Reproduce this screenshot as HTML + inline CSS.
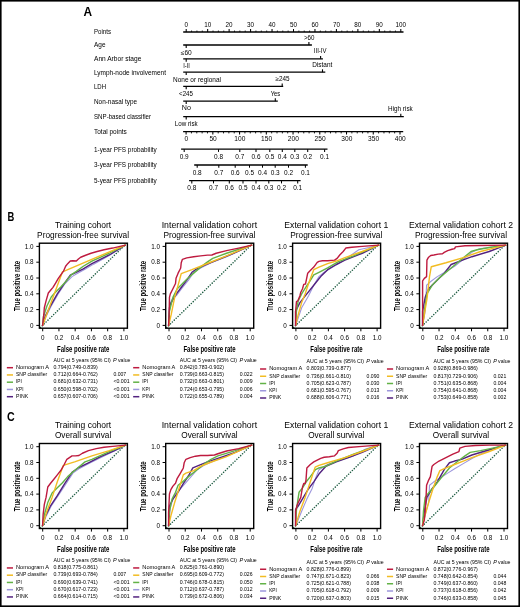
<!DOCTYPE html>
<html><head><meta charset="utf-8"><title>Figure</title>
<style>html,body{margin:0;padding:0;background:#fff;overflow:hidden;}svg{display:block;will-change:transform;}text{font-family:"Liberation Sans",sans-serif;}</style>
</head><body>
<svg width="520" height="607" viewBox="0 0 520 607" font-family='"Liberation Sans", sans-serif'>
<rect x="0" y="0" width="520" height="607" fill="#fff"/>
<text x="83.50" y="15.80" font-size="12" font-weight="bold" textLength="8.60" lengthAdjust="spacingAndGlyphs">A</text>
<text x="94.00" y="34.40" font-size="7" textLength="17.00" lengthAdjust="spacingAndGlyphs">Points</text>
<text x="94.00" y="47.40" font-size="7" textLength="11.50" lengthAdjust="spacingAndGlyphs">Age</text>
<text x="94.00" y="61.20" font-size="7" textLength="47.30" lengthAdjust="spacingAndGlyphs">Ann Arbor stage</text>
<text x="94.00" y="74.60" font-size="7" textLength="72.00" lengthAdjust="spacingAndGlyphs">Lymph-node involvement</text>
<text x="94.00" y="88.80" font-size="7" textLength="12.00" lengthAdjust="spacingAndGlyphs">LDH</text>
<text x="94.00" y="103.60" font-size="7" textLength="43.00" lengthAdjust="spacingAndGlyphs">Non-nasal type</text>
<text x="94.00" y="119.00" font-size="7" textLength="57.00" lengthAdjust="spacingAndGlyphs">SNP-based classifier</text>
<text x="94.00" y="134.00" font-size="7" textLength="32.80" lengthAdjust="spacingAndGlyphs">Total points</text>
<text x="94.00" y="151.60" font-size="7" textLength="62.80" lengthAdjust="spacingAndGlyphs">1-year PFS probability</text>
<text x="94.00" y="167.40" font-size="7" textLength="62.80" lengthAdjust="spacingAndGlyphs">3-year PFS probability</text>
<text x="94.00" y="183.10" font-size="7" textLength="62.80" lengthAdjust="spacingAndGlyphs">5-year PFS probability</text>
<line x1="183.20" y1="32.00" x2="403.50" y2="32.00" stroke="#000" stroke-width="1.3"/>
<line x1="186.20" y1="32.00" x2="186.20" y2="29.00" stroke="#000" stroke-width="1.05"/>
<text x="186.20" y="26.60" font-size="6.3" text-anchor="middle">0</text>
<line x1="191.56" y1="32.00" x2="191.56" y2="30.50" stroke="#000" stroke-width="0.8"/>
<line x1="196.93" y1="32.00" x2="196.93" y2="30.50" stroke="#000" stroke-width="0.8"/>
<line x1="202.29" y1="32.00" x2="202.29" y2="30.50" stroke="#000" stroke-width="0.8"/>
<line x1="207.66" y1="32.00" x2="207.66" y2="29.00" stroke="#000" stroke-width="1.05"/>
<text x="207.66" y="26.60" font-size="6.3" text-anchor="middle">10</text>
<line x1="213.02" y1="32.00" x2="213.02" y2="30.50" stroke="#000" stroke-width="0.8"/>
<line x1="218.39" y1="32.00" x2="218.39" y2="30.50" stroke="#000" stroke-width="0.8"/>
<line x1="223.75" y1="32.00" x2="223.75" y2="30.50" stroke="#000" stroke-width="0.8"/>
<line x1="229.12" y1="32.00" x2="229.12" y2="29.00" stroke="#000" stroke-width="1.05"/>
<text x="229.12" y="26.60" font-size="6.3" text-anchor="middle">20</text>
<line x1="234.49" y1="32.00" x2="234.49" y2="30.50" stroke="#000" stroke-width="0.8"/>
<line x1="239.85" y1="32.00" x2="239.85" y2="30.50" stroke="#000" stroke-width="0.8"/>
<line x1="245.22" y1="32.00" x2="245.22" y2="30.50" stroke="#000" stroke-width="0.8"/>
<line x1="250.58" y1="32.00" x2="250.58" y2="29.00" stroke="#000" stroke-width="1.05"/>
<text x="250.58" y="26.60" font-size="6.3" text-anchor="middle">30</text>
<line x1="255.94" y1="32.00" x2="255.94" y2="30.50" stroke="#000" stroke-width="0.8"/>
<line x1="261.31" y1="32.00" x2="261.31" y2="30.50" stroke="#000" stroke-width="0.8"/>
<line x1="266.68" y1="32.00" x2="266.68" y2="30.50" stroke="#000" stroke-width="0.8"/>
<line x1="272.04" y1="32.00" x2="272.04" y2="29.00" stroke="#000" stroke-width="1.05"/>
<text x="272.04" y="26.60" font-size="6.3" text-anchor="middle">40</text>
<line x1="277.40" y1="32.00" x2="277.40" y2="30.50" stroke="#000" stroke-width="0.8"/>
<line x1="282.77" y1="32.00" x2="282.77" y2="30.50" stroke="#000" stroke-width="0.8"/>
<line x1="288.13" y1="32.00" x2="288.13" y2="30.50" stroke="#000" stroke-width="0.8"/>
<line x1="293.50" y1="32.00" x2="293.50" y2="29.00" stroke="#000" stroke-width="1.05"/>
<text x="293.50" y="26.60" font-size="6.3" text-anchor="middle">50</text>
<line x1="298.87" y1="32.00" x2="298.87" y2="30.50" stroke="#000" stroke-width="0.8"/>
<line x1="304.23" y1="32.00" x2="304.23" y2="30.50" stroke="#000" stroke-width="0.8"/>
<line x1="309.60" y1="32.00" x2="309.60" y2="30.50" stroke="#000" stroke-width="0.8"/>
<line x1="314.96" y1="32.00" x2="314.96" y2="29.00" stroke="#000" stroke-width="1.05"/>
<text x="314.96" y="26.60" font-size="6.3" text-anchor="middle">60</text>
<line x1="320.33" y1="32.00" x2="320.33" y2="30.50" stroke="#000" stroke-width="0.8"/>
<line x1="325.69" y1="32.00" x2="325.69" y2="30.50" stroke="#000" stroke-width="0.8"/>
<line x1="331.06" y1="32.00" x2="331.06" y2="30.50" stroke="#000" stroke-width="0.8"/>
<line x1="336.42" y1="32.00" x2="336.42" y2="29.00" stroke="#000" stroke-width="1.05"/>
<text x="336.42" y="26.60" font-size="6.3" text-anchor="middle">70</text>
<line x1="341.78" y1="32.00" x2="341.78" y2="30.50" stroke="#000" stroke-width="0.8"/>
<line x1="347.15" y1="32.00" x2="347.15" y2="30.50" stroke="#000" stroke-width="0.8"/>
<line x1="352.51" y1="32.00" x2="352.51" y2="30.50" stroke="#000" stroke-width="0.8"/>
<line x1="357.88" y1="32.00" x2="357.88" y2="29.00" stroke="#000" stroke-width="1.05"/>
<text x="357.88" y="26.60" font-size="6.3" text-anchor="middle">80</text>
<line x1="363.25" y1="32.00" x2="363.25" y2="30.50" stroke="#000" stroke-width="0.8"/>
<line x1="368.61" y1="32.00" x2="368.61" y2="30.50" stroke="#000" stroke-width="0.8"/>
<line x1="373.98" y1="32.00" x2="373.98" y2="30.50" stroke="#000" stroke-width="0.8"/>
<line x1="379.34" y1="32.00" x2="379.34" y2="29.00" stroke="#000" stroke-width="1.05"/>
<text x="379.34" y="26.60" font-size="6.3" text-anchor="middle">90</text>
<line x1="384.71" y1="32.00" x2="384.71" y2="30.50" stroke="#000" stroke-width="0.8"/>
<line x1="390.07" y1="32.00" x2="390.07" y2="30.50" stroke="#000" stroke-width="0.8"/>
<line x1="395.44" y1="32.00" x2="395.44" y2="30.50" stroke="#000" stroke-width="0.8"/>
<line x1="400.80" y1="32.00" x2="400.80" y2="29.00" stroke="#000" stroke-width="1.05"/>
<text x="400.80" y="26.60" font-size="6.3" text-anchor="middle">100</text>
<line x1="183.20" y1="45.00" x2="311.90" y2="45.00" stroke="#000" stroke-width="1.3"/>
<line x1="186.20" y1="45.00" x2="186.20" y2="47.90" stroke="#000" stroke-width="1.1"/>
<line x1="308.90" y1="45.00" x2="308.90" y2="42.10" stroke="#000" stroke-width="1.1"/>
<text x="186.30" y="54.80" font-size="6.4" text-anchor="middle" textLength="11.00" lengthAdjust="spacingAndGlyphs">≤60</text>
<text x="309.20" y="39.60" font-size="6.4" text-anchor="middle" textLength="10.50" lengthAdjust="spacingAndGlyphs">&gt;60</text>
<line x1="183.20" y1="58.80" x2="322.90" y2="58.80" stroke="#000" stroke-width="1.3"/>
<line x1="186.20" y1="58.80" x2="186.20" y2="61.70" stroke="#000" stroke-width="1.1"/>
<line x1="320.60" y1="58.80" x2="320.60" y2="55.90" stroke="#000" stroke-width="1.1"/>
<text x="186.50" y="68.20" font-size="6.4" text-anchor="middle" textLength="6.60" lengthAdjust="spacingAndGlyphs">I-II</text>
<text x="320.20" y="53.20" font-size="6.4" text-anchor="middle" textLength="12.70" lengthAdjust="spacingAndGlyphs">III-IV</text>
<line x1="183.20" y1="72.20" x2="325.30" y2="72.20" stroke="#000" stroke-width="1.3"/>
<line x1="186.20" y1="72.20" x2="186.20" y2="75.10" stroke="#000" stroke-width="1.1"/>
<line x1="322.50" y1="72.20" x2="322.50" y2="69.30" stroke="#000" stroke-width="1.1"/>
<text x="197.00" y="81.80" font-size="6.4" text-anchor="middle" textLength="47.90" lengthAdjust="spacingAndGlyphs">None or regional</text>
<text x="322.30" y="66.60" font-size="6.4" text-anchor="middle" textLength="20.00" lengthAdjust="spacingAndGlyphs">Distant</text>
<line x1="183.20" y1="86.40" x2="283.20" y2="86.40" stroke="#000" stroke-width="1.3"/>
<line x1="186.20" y1="86.40" x2="186.20" y2="89.30" stroke="#000" stroke-width="1.1"/>
<line x1="282.20" y1="86.40" x2="282.20" y2="83.50" stroke="#000" stroke-width="1.1"/>
<text x="186.00" y="95.60" font-size="6.4" text-anchor="middle" textLength="13.90" lengthAdjust="spacingAndGlyphs">&lt;245</text>
<text x="282.50" y="80.70" font-size="6.4" text-anchor="middle" textLength="14.10" lengthAdjust="spacingAndGlyphs">≥245</text>
<line x1="183.20" y1="101.20" x2="277.80" y2="101.20" stroke="#000" stroke-width="1.3"/>
<line x1="186.20" y1="101.20" x2="186.20" y2="104.10" stroke="#000" stroke-width="1.1"/>
<line x1="275.30" y1="101.20" x2="275.30" y2="98.30" stroke="#000" stroke-width="1.1"/>
<text x="186.40" y="110.40" font-size="6.4" text-anchor="middle" textLength="9.10" lengthAdjust="spacingAndGlyphs">No</text>
<text x="275.50" y="95.70" font-size="6.4" text-anchor="middle" textLength="9.50" lengthAdjust="spacingAndGlyphs">Yes</text>
<line x1="183.20" y1="116.60" x2="403.80" y2="116.60" stroke="#000" stroke-width="1.3"/>
<line x1="186.20" y1="116.60" x2="186.20" y2="119.50" stroke="#000" stroke-width="1.1"/>
<line x1="400.80" y1="116.60" x2="400.80" y2="113.70" stroke="#000" stroke-width="1.1"/>
<text x="186.20" y="125.50" font-size="6.4" text-anchor="middle" textLength="22.90" lengthAdjust="spacingAndGlyphs">Low risk</text>
<text x="400.40" y="110.60" font-size="6.4" text-anchor="middle" textLength="24.70" lengthAdjust="spacingAndGlyphs">High risk</text>
<line x1="183.10" y1="131.60" x2="403.20" y2="131.60" stroke="#000" stroke-width="1.3"/>
<line x1="186.10" y1="131.60" x2="186.10" y2="134.50" stroke="#000" stroke-width="1.05"/>
<text x="186.40" y="140.70" font-size="6.6" text-anchor="middle">0</text>
<line x1="191.45" y1="131.60" x2="191.45" y2="133.40" stroke="#000" stroke-width="0.9"/>
<line x1="196.79" y1="131.60" x2="196.79" y2="133.40" stroke="#000" stroke-width="0.9"/>
<line x1="202.14" y1="131.60" x2="202.14" y2="133.40" stroke="#000" stroke-width="0.9"/>
<line x1="207.49" y1="131.60" x2="207.49" y2="133.40" stroke="#000" stroke-width="0.9"/>
<line x1="212.84" y1="131.60" x2="212.84" y2="134.50" stroke="#000" stroke-width="1.05"/>
<text x="213.14" y="140.70" font-size="6.6" text-anchor="middle">50</text>
<line x1="218.19" y1="131.60" x2="218.19" y2="133.40" stroke="#000" stroke-width="0.9"/>
<line x1="223.53" y1="131.60" x2="223.53" y2="133.40" stroke="#000" stroke-width="0.9"/>
<line x1="228.88" y1="131.60" x2="228.88" y2="133.40" stroke="#000" stroke-width="0.9"/>
<line x1="234.23" y1="131.60" x2="234.23" y2="133.40" stroke="#000" stroke-width="0.9"/>
<line x1="239.57" y1="131.60" x2="239.57" y2="134.50" stroke="#000" stroke-width="1.05"/>
<text x="239.88" y="140.70" font-size="6.6" text-anchor="middle">100</text>
<line x1="244.92" y1="131.60" x2="244.92" y2="133.40" stroke="#000" stroke-width="0.9"/>
<line x1="250.27" y1="131.60" x2="250.27" y2="133.40" stroke="#000" stroke-width="0.9"/>
<line x1="255.62" y1="131.60" x2="255.62" y2="133.40" stroke="#000" stroke-width="0.9"/>
<line x1="260.96" y1="131.60" x2="260.96" y2="133.40" stroke="#000" stroke-width="0.9"/>
<line x1="266.31" y1="131.60" x2="266.31" y2="134.50" stroke="#000" stroke-width="1.05"/>
<text x="266.61" y="140.70" font-size="6.6" text-anchor="middle">150</text>
<line x1="271.66" y1="131.60" x2="271.66" y2="133.40" stroke="#000" stroke-width="0.9"/>
<line x1="277.01" y1="131.60" x2="277.01" y2="133.40" stroke="#000" stroke-width="0.9"/>
<line x1="282.36" y1="131.60" x2="282.36" y2="133.40" stroke="#000" stroke-width="0.9"/>
<line x1="287.70" y1="131.60" x2="287.70" y2="133.40" stroke="#000" stroke-width="0.9"/>
<line x1="293.05" y1="131.60" x2="293.05" y2="134.50" stroke="#000" stroke-width="1.05"/>
<text x="293.35" y="140.70" font-size="6.6" text-anchor="middle">200</text>
<line x1="298.40" y1="131.60" x2="298.40" y2="133.40" stroke="#000" stroke-width="0.9"/>
<line x1="303.75" y1="131.60" x2="303.75" y2="133.40" stroke="#000" stroke-width="0.9"/>
<line x1="309.09" y1="131.60" x2="309.09" y2="133.40" stroke="#000" stroke-width="0.9"/>
<line x1="314.44" y1="131.60" x2="314.44" y2="133.40" stroke="#000" stroke-width="0.9"/>
<line x1="319.79" y1="131.60" x2="319.79" y2="134.50" stroke="#000" stroke-width="1.05"/>
<text x="320.09" y="140.70" font-size="6.6" text-anchor="middle">250</text>
<line x1="325.13" y1="131.60" x2="325.13" y2="133.40" stroke="#000" stroke-width="0.9"/>
<line x1="330.48" y1="131.60" x2="330.48" y2="133.40" stroke="#000" stroke-width="0.9"/>
<line x1="335.83" y1="131.60" x2="335.83" y2="133.40" stroke="#000" stroke-width="0.9"/>
<line x1="341.18" y1="131.60" x2="341.18" y2="133.40" stroke="#000" stroke-width="0.9"/>
<line x1="346.52" y1="131.60" x2="346.52" y2="134.50" stroke="#000" stroke-width="1.05"/>
<text x="346.82" y="140.70" font-size="6.6" text-anchor="middle">300</text>
<line x1="351.87" y1="131.60" x2="351.87" y2="133.40" stroke="#000" stroke-width="0.9"/>
<line x1="357.22" y1="131.60" x2="357.22" y2="133.40" stroke="#000" stroke-width="0.9"/>
<line x1="362.57" y1="131.60" x2="362.57" y2="133.40" stroke="#000" stroke-width="0.9"/>
<line x1="367.91" y1="131.60" x2="367.91" y2="133.40" stroke="#000" stroke-width="0.9"/>
<line x1="373.26" y1="131.60" x2="373.26" y2="134.50" stroke="#000" stroke-width="1.05"/>
<text x="373.56" y="140.70" font-size="6.6" text-anchor="middle">350</text>
<line x1="378.61" y1="131.60" x2="378.61" y2="133.40" stroke="#000" stroke-width="0.9"/>
<line x1="383.96" y1="131.60" x2="383.96" y2="133.40" stroke="#000" stroke-width="0.9"/>
<line x1="389.31" y1="131.60" x2="389.31" y2="133.40" stroke="#000" stroke-width="0.9"/>
<line x1="394.65" y1="131.60" x2="394.65" y2="133.40" stroke="#000" stroke-width="0.9"/>
<line x1="400.00" y1="131.60" x2="400.00" y2="134.50" stroke="#000" stroke-width="1.05"/>
<text x="400.30" y="140.70" font-size="6.6" text-anchor="middle">400</text>
<line x1="181.10" y1="149.20" x2="327.50" y2="149.20" stroke="#000" stroke-width="1.3"/>
<line x1="184.20" y1="149.20" x2="184.20" y2="151.90" stroke="#000" stroke-width="1.05"/>
<text x="184.20" y="158.80" font-size="7" text-anchor="middle" textLength="9.00" lengthAdjust="spacingAndGlyphs">0.9</text>
<line x1="218.50" y1="149.20" x2="218.50" y2="151.90" stroke="#000" stroke-width="1.05"/>
<text x="218.50" y="158.80" font-size="7" text-anchor="middle" textLength="9.00" lengthAdjust="spacingAndGlyphs">0.8</text>
<line x1="239.80" y1="149.20" x2="239.80" y2="151.90" stroke="#000" stroke-width="1.05"/>
<text x="239.80" y="158.80" font-size="7" text-anchor="middle" textLength="9.00" lengthAdjust="spacingAndGlyphs">0.7</text>
<line x1="256.00" y1="149.20" x2="256.00" y2="151.90" stroke="#000" stroke-width="1.05"/>
<text x="256.00" y="158.80" font-size="7" text-anchor="middle" textLength="9.00" lengthAdjust="spacingAndGlyphs">0.6</text>
<line x1="269.80" y1="149.20" x2="269.80" y2="151.90" stroke="#000" stroke-width="1.05"/>
<text x="269.80" y="158.80" font-size="7" text-anchor="middle" textLength="9.00" lengthAdjust="spacingAndGlyphs">0.5</text>
<line x1="282.30" y1="149.20" x2="282.30" y2="151.90" stroke="#000" stroke-width="1.05"/>
<text x="282.30" y="158.80" font-size="7" text-anchor="middle" textLength="9.00" lengthAdjust="spacingAndGlyphs">0.4</text>
<line x1="294.80" y1="149.20" x2="294.80" y2="151.90" stroke="#000" stroke-width="1.05"/>
<text x="294.80" y="158.80" font-size="7" text-anchor="middle" textLength="9.00" lengthAdjust="spacingAndGlyphs">0.3</text>
<line x1="307.70" y1="149.20" x2="307.70" y2="151.90" stroke="#000" stroke-width="1.05"/>
<text x="307.70" y="158.80" font-size="7" text-anchor="middle" textLength="9.00" lengthAdjust="spacingAndGlyphs">0.2</text>
<line x1="324.60" y1="149.20" x2="324.60" y2="151.90" stroke="#000" stroke-width="1.05"/>
<text x="324.60" y="158.80" font-size="7" text-anchor="middle" textLength="9.00" lengthAdjust="spacingAndGlyphs">0.1</text>
<line x1="194.20" y1="165.00" x2="307.70" y2="165.00" stroke="#000" stroke-width="1.3"/>
<line x1="197.20" y1="165.00" x2="197.20" y2="167.70" stroke="#000" stroke-width="1.05"/>
<text x="197.20" y="174.60" font-size="7" text-anchor="middle" textLength="9.00" lengthAdjust="spacingAndGlyphs">0.8</text>
<line x1="218.80" y1="165.00" x2="218.80" y2="167.70" stroke="#000" stroke-width="1.05"/>
<text x="218.80" y="174.60" font-size="7" text-anchor="middle" textLength="9.00" lengthAdjust="spacingAndGlyphs">0.7</text>
<line x1="235.20" y1="165.00" x2="235.20" y2="167.70" stroke="#000" stroke-width="1.05"/>
<text x="235.20" y="174.60" font-size="7" text-anchor="middle" textLength="9.00" lengthAdjust="spacingAndGlyphs">0.6</text>
<line x1="249.50" y1="165.00" x2="249.50" y2="167.70" stroke="#000" stroke-width="1.05"/>
<text x="249.50" y="174.60" font-size="7" text-anchor="middle" textLength="9.00" lengthAdjust="spacingAndGlyphs">0.5</text>
<line x1="262.50" y1="165.00" x2="262.50" y2="167.70" stroke="#000" stroke-width="1.05"/>
<text x="262.50" y="174.60" font-size="7" text-anchor="middle" textLength="9.00" lengthAdjust="spacingAndGlyphs">0.4</text>
<line x1="275.20" y1="165.00" x2="275.20" y2="167.70" stroke="#000" stroke-width="1.05"/>
<text x="275.20" y="174.60" font-size="7" text-anchor="middle" textLength="9.00" lengthAdjust="spacingAndGlyphs">0.3</text>
<line x1="288.50" y1="165.00" x2="288.50" y2="167.70" stroke="#000" stroke-width="1.05"/>
<text x="288.50" y="174.60" font-size="7" text-anchor="middle" textLength="9.00" lengthAdjust="spacingAndGlyphs">0.2</text>
<line x1="305.40" y1="165.00" x2="305.40" y2="167.70" stroke="#000" stroke-width="1.05"/>
<text x="305.40" y="174.60" font-size="7" text-anchor="middle" textLength="9.00" lengthAdjust="spacingAndGlyphs">0.1</text>
<line x1="189.10" y1="180.70" x2="300.60" y2="180.70" stroke="#000" stroke-width="1.3"/>
<line x1="191.80" y1="180.70" x2="191.80" y2="183.40" stroke="#000" stroke-width="1.05"/>
<text x="191.80" y="190.00" font-size="7" text-anchor="middle" textLength="9.00" lengthAdjust="spacingAndGlyphs">0.8</text>
<line x1="213.50" y1="180.70" x2="213.50" y2="183.40" stroke="#000" stroke-width="1.05"/>
<text x="213.50" y="190.00" font-size="7" text-anchor="middle" textLength="9.00" lengthAdjust="spacingAndGlyphs">0.7</text>
<line x1="229.30" y1="180.70" x2="229.30" y2="183.40" stroke="#000" stroke-width="1.05"/>
<text x="229.30" y="190.00" font-size="7" text-anchor="middle" textLength="9.00" lengthAdjust="spacingAndGlyphs">0.6</text>
<line x1="243.00" y1="180.70" x2="243.00" y2="183.40" stroke="#000" stroke-width="1.05"/>
<text x="243.00" y="190.00" font-size="7" text-anchor="middle" textLength="9.00" lengthAdjust="spacingAndGlyphs">0.5</text>
<line x1="256.00" y1="180.70" x2="256.00" y2="183.40" stroke="#000" stroke-width="1.05"/>
<text x="256.00" y="190.00" font-size="7" text-anchor="middle" textLength="9.00" lengthAdjust="spacingAndGlyphs">0.4</text>
<line x1="268.80" y1="180.70" x2="268.80" y2="183.40" stroke="#000" stroke-width="1.05"/>
<text x="268.80" y="190.00" font-size="7" text-anchor="middle" textLength="9.00" lengthAdjust="spacingAndGlyphs">0.3</text>
<line x1="281.50" y1="180.70" x2="281.50" y2="183.40" stroke="#000" stroke-width="1.05"/>
<text x="281.50" y="190.00" font-size="7" text-anchor="middle" textLength="9.00" lengthAdjust="spacingAndGlyphs">0.2</text>
<line x1="297.70" y1="180.70" x2="297.70" y2="183.40" stroke="#000" stroke-width="1.05"/>
<text x="297.70" y="190.00" font-size="7" text-anchor="middle" textLength="9.00" lengthAdjust="spacingAndGlyphs">0.1</text>
<text x="7.40" y="220.50" font-size="12" font-weight="bold" textLength="6.80" lengthAdjust="spacingAndGlyphs">B</text>
<text x="83.10" y="227.80" font-size="8.5" text-anchor="middle" textLength="56.30" lengthAdjust="spacingAndGlyphs">Training cohort</text>
<text x="83.10" y="238.10" font-size="8.5" text-anchor="middle" textLength="92.00" lengthAdjust="spacingAndGlyphs">Progression-free survival</text>
<g fill="none" stroke-linejoin="round" stroke-linecap="round">
<line x1="40.40" y1="327.55" x2="125.20" y2="244.80" stroke="#225f45" stroke-width="1.6" stroke-dasharray="0 2.65" stroke-linecap="round"/>
<polyline points="42.60,325.42 46.06,316.42 51.25,306.04 58.17,293.92 65.10,283.54 72.02,276.61 76.34,274.02 85.00,269.35 93.65,264.15 109.23,255.50 125.32,245.12" stroke="#9d97dd" stroke-width="1.1"/>
<polyline points="42.60,325.42 45.19,316.42 50.38,306.04 57.31,293.92 64.23,283.54 70.29,275.23 74.61,273.15 83.27,268.83 91.92,263.63 109.23,254.98 125.32,245.12" stroke="#52217f" stroke-width="1.4"/>
<polyline points="42.60,325.42 43.46,316.42 46.92,306.04 51.25,297.04 54.71,293.06 60.77,287.00 65.96,281.46 71.15,274.88 76.34,271.42 83.27,266.23 91.92,261.04 109.23,253.25 125.32,245.12" stroke="#62b246" stroke-width="1.4"/>
<polyline points="42.60,325.42 62.50,271.77 125.32,245.12" stroke="#f2bc22" stroke-width="1.4"/>
<polyline points="42.60,325.42 43.81,314.69 44.33,307.77 46.06,300.84 48.31,293.06 50.38,290.46 52.98,287.34 55.58,283.19 58.17,278.69 60.77,274.88 63.36,271.42 65.61,266.23 67.69,263.63 70.29,261.04 72.88,260.69 76.34,261.04 78.42,258.96 80.67,257.23 85.00,255.50 91.06,253.25 97.11,251.52 104.04,249.79 112.69,248.06 125.32,245.12" stroke="#be1a3f" stroke-width="1.4"/>
</g>
<rect x="39.40" y="243.20" width="88" height="85" fill="none" stroke="#000" stroke-width="1.4"/>
<line x1="36.30" y1="325.40" x2="39.40" y2="325.40" stroke="#000" stroke-width="1.0"/>
<text x="33.60" y="327.60" font-size="6.3" text-anchor="end">0</text>
<line x1="36.30" y1="309.60" x2="39.40" y2="309.60" stroke="#000" stroke-width="1.0"/>
<text x="33.60" y="311.80" font-size="6.3" text-anchor="end">0.2</text>
<line x1="36.30" y1="293.80" x2="39.40" y2="293.80" stroke="#000" stroke-width="1.0"/>
<text x="33.60" y="296.00" font-size="6.3" text-anchor="end">0.4</text>
<line x1="36.30" y1="278.00" x2="39.40" y2="278.00" stroke="#000" stroke-width="1.0"/>
<text x="33.60" y="280.20" font-size="6.3" text-anchor="end">0.6</text>
<line x1="36.30" y1="262.20" x2="39.40" y2="262.20" stroke="#000" stroke-width="1.0"/>
<text x="33.60" y="264.40" font-size="6.3" text-anchor="end">0.8</text>
<line x1="36.30" y1="246.40" x2="39.40" y2="246.40" stroke="#000" stroke-width="1.0"/>
<text x="33.60" y="248.60" font-size="6.3" text-anchor="end">1.0</text>
<line x1="42.70" y1="328.20" x2="42.70" y2="331.30" stroke="#000" stroke-width="1.0"/>
<text x="42.70" y="339.80" font-size="6.3" text-anchor="middle">0</text>
<line x1="58.94" y1="328.20" x2="58.94" y2="331.30" stroke="#000" stroke-width="1.0"/>
<text x="58.94" y="339.80" font-size="6.3" text-anchor="middle">0.2</text>
<line x1="75.18" y1="328.20" x2="75.18" y2="331.30" stroke="#000" stroke-width="1.0"/>
<text x="75.18" y="339.80" font-size="6.3" text-anchor="middle">0.4</text>
<line x1="91.42" y1="328.20" x2="91.42" y2="331.30" stroke="#000" stroke-width="1.0"/>
<text x="91.42" y="339.80" font-size="6.3" text-anchor="middle">0.6</text>
<line x1="107.66" y1="328.20" x2="107.66" y2="331.30" stroke="#000" stroke-width="1.0"/>
<text x="107.66" y="339.80" font-size="6.3" text-anchor="middle">0.8</text>
<line x1="123.90" y1="328.20" x2="123.90" y2="331.30" stroke="#000" stroke-width="1.0"/>
<text x="123.90" y="339.80" font-size="6.3" text-anchor="middle">1.0</text>
<text x="83.25" y="351.60" font-size="9" text-anchor="middle" font-weight="bold" textLength="52.30" lengthAdjust="spacingAndGlyphs">False positive rate</text>
<text transform="translate(19.90,286.00) rotate(-90)" font-size="9" font-weight="bold" text-anchor="middle" textLength="50" lengthAdjust="spacingAndGlyphs">True positive rate</text>
<text x="53.40" y="362.10" font-size="5.8" textLength="57.40" lengthAdjust="spacingAndGlyphs">AUC at 5 years (95% CI)</text>
<text x="113.10" y="362.10" font-size="5.8" font-style="italic" textLength="3.70" lengthAdjust="spacingAndGlyphs">P</text>
<text x="118.00" y="362.10" font-size="5.8" textLength="12.40" lengthAdjust="spacingAndGlyphs">value</text>
<line x1="6.85" y1="367.70" x2="13.00" y2="367.70" stroke="#be1a3f" stroke-width="1.5"/>
<text x="16.00" y="368.95" font-size="5.8" textLength="33.10" lengthAdjust="spacingAndGlyphs">Nomogram A</text>
<text x="53.40" y="368.95" font-size="5.8" textLength="44.30" lengthAdjust="spacingAndGlyphs">0.794(0.749-0.839)</text>
<line x1="6.85" y1="374.95" x2="13.00" y2="374.95" stroke="#f2bc22" stroke-width="1.5"/>
<text x="16.00" y="376.20" font-size="5.8" textLength="31.10" lengthAdjust="spacingAndGlyphs">SNP classifier</text>
<text x="53.40" y="376.20" font-size="5.8" textLength="44.30" lengthAdjust="spacingAndGlyphs">0.712(0.664-0.762)</text>
<text x="113.40" y="376.20" font-size="5.8" textLength="12.80" lengthAdjust="spacingAndGlyphs">0.007</text>
<line x1="6.85" y1="382.20" x2="13.00" y2="382.20" stroke="#62b246" stroke-width="1.5"/>
<text x="16.00" y="383.45" font-size="5.8" textLength="5.80" lengthAdjust="spacingAndGlyphs">IPI</text>
<text x="53.40" y="383.45" font-size="5.8" textLength="44.30" lengthAdjust="spacingAndGlyphs">0.681(0.632-0.731)</text>
<text x="113.40" y="383.45" font-size="5.8" textLength="16.20" lengthAdjust="spacingAndGlyphs">&lt;0.001</text>
<line x1="6.85" y1="389.45" x2="13.00" y2="389.45" stroke="#9d97dd" stroke-width="1.5"/>
<text x="16.00" y="390.70" font-size="5.8" textLength="7.50" lengthAdjust="spacingAndGlyphs">KPI</text>
<text x="53.40" y="390.70" font-size="5.8" textLength="44.30" lengthAdjust="spacingAndGlyphs">0.650(0.598-0.702)</text>
<text x="113.40" y="390.70" font-size="5.8" textLength="16.20" lengthAdjust="spacingAndGlyphs">&lt;0.001</text>
<line x1="6.85" y1="396.70" x2="13.00" y2="396.70" stroke="#52217f" stroke-width="1.5"/>
<text x="16.00" y="397.95" font-size="5.8" textLength="12.10" lengthAdjust="spacingAndGlyphs">PINK</text>
<text x="53.40" y="397.95" font-size="5.8" textLength="44.30" lengthAdjust="spacingAndGlyphs">0.657(0.607-0.706)</text>
<text x="113.40" y="397.95" font-size="5.8" textLength="16.20" lengthAdjust="spacingAndGlyphs">&lt;0.001</text>
<text x="209.40" y="227.80" font-size="8.5" text-anchor="middle" textLength="95.40" lengthAdjust="spacingAndGlyphs">Internal validation cohort</text>
<text x="209.40" y="238.10" font-size="8.5" text-anchor="middle" textLength="92.00" lengthAdjust="spacingAndGlyphs">Progression-free survival</text>
<g fill="none" stroke-linejoin="round" stroke-linecap="round">
<line x1="166.70" y1="327.55" x2="251.50" y2="244.80" stroke="#225f45" stroke-width="1.6" stroke-dasharray="0 2.65" stroke-linecap="round"/>
<polyline points="168.60,325.59 169.81,304.31 172.06,299.11 176.38,295.65 181.58,288.73 188.50,280.08 193.69,272.29 200.61,267.96 211.00,262.77 226.57,256.71 251.67,245.12" stroke="#9d97dd" stroke-width="1.1"/>
<polyline points="168.60,325.59 169.46,307.77 171.19,302.57 176.38,293.92 181.58,287.00 186.77,280.08 191.96,272.29 195.42,269.69 204.08,265.36 214.46,261.04 231.77,254.11 251.67,245.12" stroke="#52217f" stroke-width="1.4"/>
<polyline points="168.60,325.59 169.46,311.23 172.92,297.38 177.25,288.73 181.58,284.40 186.77,279.21 193.69,273.15 200.61,267.10 207.54,261.90 212.73,258.44 226.57,253.25 251.67,245.12" stroke="#62b246" stroke-width="1.4"/>
<polyline points="168.60,325.59 171.19,314.69 174.65,297.38 178.11,285.27 181.23,273.67 191.96,269.69 209.27,262.77 226.57,255.85 251.67,245.12" stroke="#f2bc22" stroke-width="1.4"/>
<polyline points="168.60,325.59 169.12,314.69 169.46,297.38 170.33,293.92 172.92,288.73 175.52,283.54 176.04,278.34 178.11,273.15 179.85,269.69 180.71,267.96 181.23,262.77 182.44,259.31 186.77,257.92 193.69,256.71 200.61,255.85 207.54,255.15 211.86,254.98 216.19,253.25 226.57,250.65 238.69,248.06 251.67,245.12" stroke="#be1a3f" stroke-width="1.4"/>
</g>
<rect x="165.70" y="243.20" width="88" height="85" fill="none" stroke="#000" stroke-width="1.4"/>
<line x1="162.60" y1="325.40" x2="165.70" y2="325.40" stroke="#000" stroke-width="1.0"/>
<text x="159.90" y="327.60" font-size="6.3" text-anchor="end">0</text>
<line x1="162.60" y1="309.60" x2="165.70" y2="309.60" stroke="#000" stroke-width="1.0"/>
<text x="159.90" y="311.80" font-size="6.3" text-anchor="end">0.2</text>
<line x1="162.60" y1="293.80" x2="165.70" y2="293.80" stroke="#000" stroke-width="1.0"/>
<text x="159.90" y="296.00" font-size="6.3" text-anchor="end">0.4</text>
<line x1="162.60" y1="278.00" x2="165.70" y2="278.00" stroke="#000" stroke-width="1.0"/>
<text x="159.90" y="280.20" font-size="6.3" text-anchor="end">0.6</text>
<line x1="162.60" y1="262.20" x2="165.70" y2="262.20" stroke="#000" stroke-width="1.0"/>
<text x="159.90" y="264.40" font-size="6.3" text-anchor="end">0.8</text>
<line x1="162.60" y1="246.40" x2="165.70" y2="246.40" stroke="#000" stroke-width="1.0"/>
<text x="159.90" y="248.60" font-size="6.3" text-anchor="end">1.0</text>
<line x1="169.00" y1="328.20" x2="169.00" y2="331.30" stroke="#000" stroke-width="1.0"/>
<text x="169.00" y="339.80" font-size="6.3" text-anchor="middle">0</text>
<line x1="185.24" y1="328.20" x2="185.24" y2="331.30" stroke="#000" stroke-width="1.0"/>
<text x="185.24" y="339.80" font-size="6.3" text-anchor="middle">0.2</text>
<line x1="201.48" y1="328.20" x2="201.48" y2="331.30" stroke="#000" stroke-width="1.0"/>
<text x="201.48" y="339.80" font-size="6.3" text-anchor="middle">0.4</text>
<line x1="217.72" y1="328.20" x2="217.72" y2="331.30" stroke="#000" stroke-width="1.0"/>
<text x="217.72" y="339.80" font-size="6.3" text-anchor="middle">0.6</text>
<line x1="233.96" y1="328.20" x2="233.96" y2="331.30" stroke="#000" stroke-width="1.0"/>
<text x="233.96" y="339.80" font-size="6.3" text-anchor="middle">0.8</text>
<line x1="250.20" y1="328.20" x2="250.20" y2="331.30" stroke="#000" stroke-width="1.0"/>
<text x="250.20" y="339.80" font-size="6.3" text-anchor="middle">1.0</text>
<text x="209.55" y="351.60" font-size="9" text-anchor="middle" font-weight="bold" textLength="52.30" lengthAdjust="spacingAndGlyphs">False positive rate</text>
<text transform="translate(146.20,286.00) rotate(-90)" font-size="9" font-weight="bold" text-anchor="middle" textLength="50" lengthAdjust="spacingAndGlyphs">True positive rate</text>
<text x="179.70" y="362.10" font-size="5.8" textLength="57.40" lengthAdjust="spacingAndGlyphs">AUC at 5 years (95% CI)</text>
<text x="239.40" y="362.10" font-size="5.8" font-style="italic" textLength="3.70" lengthAdjust="spacingAndGlyphs">P</text>
<text x="244.30" y="362.10" font-size="5.8" textLength="12.40" lengthAdjust="spacingAndGlyphs">value</text>
<line x1="133.15" y1="367.70" x2="139.30" y2="367.70" stroke="#be1a3f" stroke-width="1.5"/>
<text x="142.30" y="368.95" font-size="5.8" textLength="33.10" lengthAdjust="spacingAndGlyphs">Nomogram A</text>
<text x="179.70" y="368.95" font-size="5.8" textLength="44.30" lengthAdjust="spacingAndGlyphs">0.842(0.783-0.902)</text>
<line x1="133.15" y1="374.95" x2="139.30" y2="374.95" stroke="#f2bc22" stroke-width="1.5"/>
<text x="142.30" y="376.20" font-size="5.8" textLength="31.10" lengthAdjust="spacingAndGlyphs">SNP classifier</text>
<text x="179.70" y="376.20" font-size="5.8" textLength="44.30" lengthAdjust="spacingAndGlyphs">0.739(0.663-0.815)</text>
<text x="239.70" y="376.20" font-size="5.8" textLength="12.80" lengthAdjust="spacingAndGlyphs">0.022</text>
<line x1="133.15" y1="382.20" x2="139.30" y2="382.20" stroke="#62b246" stroke-width="1.5"/>
<text x="142.30" y="383.45" font-size="5.8" textLength="5.80" lengthAdjust="spacingAndGlyphs">IPI</text>
<text x="179.70" y="383.45" font-size="5.8" textLength="44.30" lengthAdjust="spacingAndGlyphs">0.732(0.663-0.801)</text>
<text x="239.70" y="383.45" font-size="5.8" textLength="12.80" lengthAdjust="spacingAndGlyphs">0.009</text>
<line x1="133.15" y1="389.45" x2="139.30" y2="389.45" stroke="#9d97dd" stroke-width="1.5"/>
<text x="142.30" y="390.70" font-size="5.8" textLength="7.50" lengthAdjust="spacingAndGlyphs">KPI</text>
<text x="179.70" y="390.70" font-size="5.8" textLength="44.30" lengthAdjust="spacingAndGlyphs">0.724(0.653-0.795)</text>
<text x="239.70" y="390.70" font-size="5.8" textLength="12.80" lengthAdjust="spacingAndGlyphs">0.006</text>
<line x1="133.15" y1="396.70" x2="139.30" y2="396.70" stroke="#52217f" stroke-width="1.5"/>
<text x="142.30" y="397.95" font-size="5.8" textLength="12.10" lengthAdjust="spacingAndGlyphs">PINK</text>
<text x="179.70" y="397.95" font-size="5.8" textLength="44.30" lengthAdjust="spacingAndGlyphs">0.722(0.655-0.789)</text>
<text x="239.70" y="397.95" font-size="5.8" textLength="12.80" lengthAdjust="spacingAndGlyphs">0.004</text>
<text x="336.30" y="227.80" font-size="8.5" text-anchor="middle" textLength="103.90" lengthAdjust="spacingAndGlyphs">External validation cohort 1</text>
<text x="336.30" y="238.10" font-size="8.5" text-anchor="middle" textLength="92.00" lengthAdjust="spacingAndGlyphs">Progression-free survival</text>
<g fill="none" stroke-linejoin="round" stroke-linecap="round">
<line x1="293.60" y1="327.55" x2="378.40" y2="244.80" stroke="#225f45" stroke-width="1.6" stroke-dasharray="0 2.65" stroke-linecap="round"/>
<polyline points="295.60,325.42 298.19,318.15 301.65,307.77 308.58,295.65 313.77,285.27 318.96,276.61 324.15,272.29 331.08,267.96 341.46,261.90 358.77,249.79 369.15,247.54 378.67,245.12" stroke="#9d97dd" stroke-width="1.1"/>
<polyline points="295.60,325.42 295.60,311.23 299.92,302.57 306.85,293.92 313.77,285.27 320.69,276.61 327.61,269.69 336.27,264.50 344.92,260.17 362.23,253.25 378.67,245.12" stroke="#52217f" stroke-width="1.4"/>
<polyline points="295.60,325.42 296.46,311.23 298.19,300.84 301.65,293.92 305.98,287.00 309.44,281.81 313.77,274.88 318.96,272.29 327.61,267.96 338.00,261.90 353.57,255.85 378.67,245.12" stroke="#62b246" stroke-width="1.4"/>
<polyline points="295.60,325.42 298.19,314.69 301.65,302.57 305.11,293.92 308.58,283.54 311.17,276.61 313.77,269.69 318.96,267.10 327.61,263.63 336.27,261.04 344.92,257.58 362.23,251.52 378.67,245.12" stroke="#f2bc22" stroke-width="1.4"/>
<polyline points="295.60,325.42 295.60,311.23 296.46,301.71 297.85,300.84 299.92,295.65 300.79,292.19 302.52,288.73 303.73,284.40 305.46,284.06 306.50,279.21 307.71,273.15 310.31,270.56 313.77,267.10 317.23,262.42 318.96,261.38 322.42,260.69 327.61,260.69 334.54,260.17 337.13,258.44 339.73,254.98 343.19,251.52 345.79,248.06 351.84,247.19 362.23,246.33 378.67,245.12" stroke="#be1a3f" stroke-width="1.4"/>
</g>
<rect x="292.60" y="243.20" width="88" height="85" fill="none" stroke="#000" stroke-width="1.4"/>
<line x1="289.50" y1="325.40" x2="292.60" y2="325.40" stroke="#000" stroke-width="1.0"/>
<text x="286.80" y="327.60" font-size="6.3" text-anchor="end">0</text>
<line x1="289.50" y1="309.60" x2="292.60" y2="309.60" stroke="#000" stroke-width="1.0"/>
<text x="286.80" y="311.80" font-size="6.3" text-anchor="end">0.2</text>
<line x1="289.50" y1="293.80" x2="292.60" y2="293.80" stroke="#000" stroke-width="1.0"/>
<text x="286.80" y="296.00" font-size="6.3" text-anchor="end">0.4</text>
<line x1="289.50" y1="278.00" x2="292.60" y2="278.00" stroke="#000" stroke-width="1.0"/>
<text x="286.80" y="280.20" font-size="6.3" text-anchor="end">0.6</text>
<line x1="289.50" y1="262.20" x2="292.60" y2="262.20" stroke="#000" stroke-width="1.0"/>
<text x="286.80" y="264.40" font-size="6.3" text-anchor="end">0.8</text>
<line x1="289.50" y1="246.40" x2="292.60" y2="246.40" stroke="#000" stroke-width="1.0"/>
<text x="286.80" y="248.60" font-size="6.3" text-anchor="end">1.0</text>
<line x1="295.90" y1="328.20" x2="295.90" y2="331.30" stroke="#000" stroke-width="1.0"/>
<text x="295.90" y="339.80" font-size="6.3" text-anchor="middle">0</text>
<line x1="312.14" y1="328.20" x2="312.14" y2="331.30" stroke="#000" stroke-width="1.0"/>
<text x="312.14" y="339.80" font-size="6.3" text-anchor="middle">0.2</text>
<line x1="328.38" y1="328.20" x2="328.38" y2="331.30" stroke="#000" stroke-width="1.0"/>
<text x="328.38" y="339.80" font-size="6.3" text-anchor="middle">0.4</text>
<line x1="344.62" y1="328.20" x2="344.62" y2="331.30" stroke="#000" stroke-width="1.0"/>
<text x="344.62" y="339.80" font-size="6.3" text-anchor="middle">0.6</text>
<line x1="360.86" y1="328.20" x2="360.86" y2="331.30" stroke="#000" stroke-width="1.0"/>
<text x="360.86" y="339.80" font-size="6.3" text-anchor="middle">0.8</text>
<line x1="377.10" y1="328.20" x2="377.10" y2="331.30" stroke="#000" stroke-width="1.0"/>
<text x="377.10" y="339.80" font-size="6.3" text-anchor="middle">1.0</text>
<text x="336.45" y="351.60" font-size="9" text-anchor="middle" font-weight="bold" textLength="52.30" lengthAdjust="spacingAndGlyphs">False positive rate</text>
<text transform="translate(273.10,286.00) rotate(-90)" font-size="9" font-weight="bold" text-anchor="middle" textLength="50" lengthAdjust="spacingAndGlyphs">True positive rate</text>
<text x="306.60" y="363.40" font-size="5.8" textLength="57.40" lengthAdjust="spacingAndGlyphs">AUC at 5 years (95% CI)</text>
<text x="366.30" y="363.40" font-size="5.8" font-style="italic" textLength="3.70" lengthAdjust="spacingAndGlyphs">P</text>
<text x="371.20" y="363.40" font-size="5.8" textLength="12.40" lengthAdjust="spacingAndGlyphs">value</text>
<line x1="260.05" y1="369.00" x2="266.20" y2="369.00" stroke="#be1a3f" stroke-width="1.5"/>
<text x="269.20" y="370.25" font-size="5.8" textLength="33.10" lengthAdjust="spacingAndGlyphs">Nomogram A</text>
<text x="306.60" y="370.25" font-size="5.8" textLength="44.30" lengthAdjust="spacingAndGlyphs">0.803(0.739-0.877)</text>
<line x1="260.05" y1="376.25" x2="266.20" y2="376.25" stroke="#f2bc22" stroke-width="1.5"/>
<text x="269.20" y="377.50" font-size="5.8" textLength="31.10" lengthAdjust="spacingAndGlyphs">SNP classifier</text>
<text x="306.60" y="377.50" font-size="5.8" textLength="44.30" lengthAdjust="spacingAndGlyphs">0.736(0.661-0.810)</text>
<text x="366.60" y="377.50" font-size="5.8" textLength="12.80" lengthAdjust="spacingAndGlyphs">0.090</text>
<line x1="260.05" y1="383.50" x2="266.20" y2="383.50" stroke="#62b246" stroke-width="1.5"/>
<text x="269.20" y="384.75" font-size="5.8" textLength="5.80" lengthAdjust="spacingAndGlyphs">IPI</text>
<text x="306.60" y="384.75" font-size="5.8" textLength="44.30" lengthAdjust="spacingAndGlyphs">0.705(0.623-0.787)</text>
<text x="366.60" y="384.75" font-size="5.8" textLength="12.80" lengthAdjust="spacingAndGlyphs">0.030</text>
<line x1="260.05" y1="390.75" x2="266.20" y2="390.75" stroke="#9d97dd" stroke-width="1.5"/>
<text x="269.20" y="392.00" font-size="5.8" textLength="7.50" lengthAdjust="spacingAndGlyphs">KPI</text>
<text x="306.60" y="392.00" font-size="5.8" textLength="44.30" lengthAdjust="spacingAndGlyphs">0.681(0.595-0.767)</text>
<text x="366.60" y="392.00" font-size="5.8" textLength="12.80" lengthAdjust="spacingAndGlyphs">0.013</text>
<line x1="260.05" y1="398.00" x2="266.20" y2="398.00" stroke="#52217f" stroke-width="1.5"/>
<text x="269.20" y="399.25" font-size="5.8" textLength="12.10" lengthAdjust="spacingAndGlyphs">PINK</text>
<text x="306.60" y="399.25" font-size="5.8" textLength="44.30" lengthAdjust="spacingAndGlyphs">0.688(0.606-0.771)</text>
<text x="366.60" y="399.25" font-size="5.8" textLength="12.80" lengthAdjust="spacingAndGlyphs">0.016</text>
<text x="461.00" y="227.80" font-size="8.5" text-anchor="middle" textLength="104.10" lengthAdjust="spacingAndGlyphs">External validation cohort 2</text>
<text x="461.00" y="238.10" font-size="8.5" text-anchor="middle" textLength="92.00" lengthAdjust="spacingAndGlyphs">Progression-free survival</text>
<g fill="none" stroke-linejoin="round" stroke-linecap="round">
<line x1="420.50" y1="327.55" x2="505.30" y2="244.80" stroke="#225f45" stroke-width="1.6" stroke-dasharray="0 2.65" stroke-linecap="round"/>
<polyline points="422.60,325.42 425.19,311.23 426.58,285.27 430.38,281.81 437.31,276.61 445.96,271.42 454.61,266.23 463.27,259.31 471.92,252.38 478.84,248.92 489.23,247.54 505.67,245.12" stroke="#9d97dd" stroke-width="1.1"/>
<polyline points="422.60,325.42 422.60,311.23 425.19,297.38 428.65,288.73 437.31,280.08 444.23,273.15 451.15,264.50 459.81,261.04 471.92,256.71 489.23,251.52 505.67,245.12" stroke="#52217f" stroke-width="1.4"/>
<polyline points="422.60,325.42 424.33,311.23 426.92,293.92 432.11,285.27 440.77,276.61 451.15,267.96 461.54,259.31 471.06,251.52 477.11,249.79 489.23,247.54 505.67,245.12" stroke="#62b246" stroke-width="1.4"/>
<polyline points="422.60,325.42 424.33,314.69 426.92,299.11 429.52,276.61 431.25,266.75 445.96,262.77 463.27,257.58 480.57,251.52 505.67,245.12" stroke="#f2bc22" stroke-width="1.4"/>
<polyline points="422.60,325.42 422.60,280.94 424.33,278.34 426.58,276.61 426.92,260.17 428.31,257.58 430.73,255.50 433.85,254.98 438.17,254.11 442.50,253.77 444.23,252.38 447.69,250.65 452.02,249.27 454.61,248.58 455.48,246.85 465.00,245.81 480.57,245.46 505.67,245.12" stroke="#be1a3f" stroke-width="1.4"/>
</g>
<rect x="419.50" y="243.20" width="88" height="85" fill="none" stroke="#000" stroke-width="1.4"/>
<line x1="416.40" y1="325.40" x2="419.50" y2="325.40" stroke="#000" stroke-width="1.0"/>
<text x="413.70" y="327.60" font-size="6.3" text-anchor="end">0</text>
<line x1="416.40" y1="309.60" x2="419.50" y2="309.60" stroke="#000" stroke-width="1.0"/>
<text x="413.70" y="311.80" font-size="6.3" text-anchor="end">0.2</text>
<line x1="416.40" y1="293.80" x2="419.50" y2="293.80" stroke="#000" stroke-width="1.0"/>
<text x="413.70" y="296.00" font-size="6.3" text-anchor="end">0.4</text>
<line x1="416.40" y1="278.00" x2="419.50" y2="278.00" stroke="#000" stroke-width="1.0"/>
<text x="413.70" y="280.20" font-size="6.3" text-anchor="end">0.6</text>
<line x1="416.40" y1="262.20" x2="419.50" y2="262.20" stroke="#000" stroke-width="1.0"/>
<text x="413.70" y="264.40" font-size="6.3" text-anchor="end">0.8</text>
<line x1="416.40" y1="246.40" x2="419.50" y2="246.40" stroke="#000" stroke-width="1.0"/>
<text x="413.70" y="248.60" font-size="6.3" text-anchor="end">1.0</text>
<line x1="422.80" y1="328.20" x2="422.80" y2="331.30" stroke="#000" stroke-width="1.0"/>
<text x="422.80" y="339.80" font-size="6.3" text-anchor="middle">0</text>
<line x1="439.04" y1="328.20" x2="439.04" y2="331.30" stroke="#000" stroke-width="1.0"/>
<text x="439.04" y="339.80" font-size="6.3" text-anchor="middle">0.2</text>
<line x1="455.28" y1="328.20" x2="455.28" y2="331.30" stroke="#000" stroke-width="1.0"/>
<text x="455.28" y="339.80" font-size="6.3" text-anchor="middle">0.4</text>
<line x1="471.52" y1="328.20" x2="471.52" y2="331.30" stroke="#000" stroke-width="1.0"/>
<text x="471.52" y="339.80" font-size="6.3" text-anchor="middle">0.6</text>
<line x1="487.76" y1="328.20" x2="487.76" y2="331.30" stroke="#000" stroke-width="1.0"/>
<text x="487.76" y="339.80" font-size="6.3" text-anchor="middle">0.8</text>
<line x1="504.00" y1="328.20" x2="504.00" y2="331.30" stroke="#000" stroke-width="1.0"/>
<text x="504.00" y="339.80" font-size="6.3" text-anchor="middle">1.0</text>
<text x="463.35" y="351.60" font-size="9" text-anchor="middle" font-weight="bold" textLength="52.30" lengthAdjust="spacingAndGlyphs">False positive rate</text>
<text transform="translate(400.00,286.00) rotate(-90)" font-size="9" font-weight="bold" text-anchor="middle" textLength="50" lengthAdjust="spacingAndGlyphs">True positive rate</text>
<text x="433.50" y="363.40" font-size="5.8" textLength="57.40" lengthAdjust="spacingAndGlyphs">AUC at 5 years (95% CI)</text>
<text x="493.20" y="363.40" font-size="5.8" font-style="italic" textLength="3.70" lengthAdjust="spacingAndGlyphs">P</text>
<text x="498.10" y="363.40" font-size="5.8" textLength="12.40" lengthAdjust="spacingAndGlyphs">value</text>
<line x1="386.95" y1="369.00" x2="393.10" y2="369.00" stroke="#be1a3f" stroke-width="1.5"/>
<text x="396.10" y="370.25" font-size="5.8" textLength="33.10" lengthAdjust="spacingAndGlyphs">Nomogram A</text>
<text x="433.50" y="370.25" font-size="5.8" textLength="44.30" lengthAdjust="spacingAndGlyphs">0.928(0.869-0.986)</text>
<line x1="386.95" y1="376.25" x2="393.10" y2="376.25" stroke="#f2bc22" stroke-width="1.5"/>
<text x="396.10" y="377.50" font-size="5.8" textLength="31.10" lengthAdjust="spacingAndGlyphs">SNP classifier</text>
<text x="433.50" y="377.50" font-size="5.8" textLength="44.30" lengthAdjust="spacingAndGlyphs">0.817(0.729-0.906)</text>
<text x="493.50" y="377.50" font-size="5.8" textLength="12.80" lengthAdjust="spacingAndGlyphs">0.021</text>
<line x1="386.95" y1="383.50" x2="393.10" y2="383.50" stroke="#62b246" stroke-width="1.5"/>
<text x="396.10" y="384.75" font-size="5.8" textLength="5.80" lengthAdjust="spacingAndGlyphs">IPI</text>
<text x="433.50" y="384.75" font-size="5.8" textLength="44.30" lengthAdjust="spacingAndGlyphs">0.751(0.635-0.868)</text>
<text x="493.50" y="384.75" font-size="5.8" textLength="12.80" lengthAdjust="spacingAndGlyphs">0.004</text>
<line x1="386.95" y1="390.75" x2="393.10" y2="390.75" stroke="#9d97dd" stroke-width="1.5"/>
<text x="396.10" y="392.00" font-size="5.8" textLength="7.50" lengthAdjust="spacingAndGlyphs">KPI</text>
<text x="433.50" y="392.00" font-size="5.8" textLength="44.30" lengthAdjust="spacingAndGlyphs">0.754(0.641-0.868)</text>
<text x="493.50" y="392.00" font-size="5.8" textLength="12.80" lengthAdjust="spacingAndGlyphs">0.004</text>
<line x1="386.95" y1="398.00" x2="393.10" y2="398.00" stroke="#52217f" stroke-width="1.5"/>
<text x="396.10" y="399.25" font-size="5.8" textLength="12.10" lengthAdjust="spacingAndGlyphs">PINK</text>
<text x="433.50" y="399.25" font-size="5.8" textLength="44.30" lengthAdjust="spacingAndGlyphs">0.753(0.649-0.858)</text>
<text x="493.50" y="399.25" font-size="5.8" textLength="12.80" lengthAdjust="spacingAndGlyphs">0.002</text>
<text x="7.00" y="420.80" font-size="12" font-weight="bold" textLength="7.70" lengthAdjust="spacingAndGlyphs">C</text>
<text x="83.10" y="428.10" font-size="8.5" text-anchor="middle" textLength="56.30" lengthAdjust="spacingAndGlyphs">Training cohort</text>
<text x="83.10" y="438.40" font-size="8.5" text-anchor="middle" textLength="56.30" lengthAdjust="spacingAndGlyphs">Overall survival</text>
<g fill="none" stroke-linejoin="round" stroke-linecap="round">
<line x1="40.40" y1="527.85" x2="125.20" y2="445.10" stroke="#225f45" stroke-width="1.6" stroke-dasharray="0 2.65" stroke-linecap="round"/>
<polyline points="42.60,525.59 46.06,516.42 51.25,506.04 58.17,495.65 65.10,485.27 72.88,473.15 78.94,468.83 89.33,463.29 101.44,457.23 114.42,451.00 125.67,445.12" stroke="#9d97dd" stroke-width="1.1"/>
<polyline points="42.60,525.59 45.19,516.42 50.38,506.04 57.31,495.65 64.23,484.40 72.02,472.29 78.08,467.96 88.46,462.77 100.57,456.71 114.42,450.65 125.67,445.12" stroke="#52217f" stroke-width="1.4"/>
<polyline points="42.60,525.59 44.33,514.69 47.79,502.57 52.11,493.06 57.31,487.86 62.50,482.67 67.69,476.61 74.61,470.56 85.00,461.90 91.92,459.31 109.23,451.52 125.67,445.12" stroke="#62b246" stroke-width="1.4"/>
<polyline points="42.60,525.59 46.92,511.23 52.11,497.38 57.31,481.81 63.36,465.36 74.61,461.90 91.92,455.85 109.23,450.65 125.67,445.12" stroke="#f2bc22" stroke-width="1.4"/>
<polyline points="42.60,525.59 43.12,514.69 44.33,504.31 46.06,497.38 47.79,487.00 50.38,483.54 53.85,479.21 57.31,474.88 60.77,470.56 64.23,464.50 66.83,459.31 69.42,457.58 72.02,455.85 75.48,455.85 78.94,455.50 82.40,453.25 88.46,450.65 96.25,448.58 104.04,447.19 112.69,446.33 125.67,445.12" stroke="#be1a3f" stroke-width="1.4"/>
</g>
<rect x="39.40" y="443.50" width="88" height="85" fill="none" stroke="#000" stroke-width="1.4"/>
<line x1="36.30" y1="525.70" x2="39.40" y2="525.70" stroke="#000" stroke-width="1.0"/>
<text x="33.60" y="527.90" font-size="6.3" text-anchor="end">0</text>
<line x1="36.30" y1="509.90" x2="39.40" y2="509.90" stroke="#000" stroke-width="1.0"/>
<text x="33.60" y="512.10" font-size="6.3" text-anchor="end">0.2</text>
<line x1="36.30" y1="494.10" x2="39.40" y2="494.10" stroke="#000" stroke-width="1.0"/>
<text x="33.60" y="496.30" font-size="6.3" text-anchor="end">0.4</text>
<line x1="36.30" y1="478.30" x2="39.40" y2="478.30" stroke="#000" stroke-width="1.0"/>
<text x="33.60" y="480.50" font-size="6.3" text-anchor="end">0.6</text>
<line x1="36.30" y1="462.50" x2="39.40" y2="462.50" stroke="#000" stroke-width="1.0"/>
<text x="33.60" y="464.70" font-size="6.3" text-anchor="end">0.8</text>
<line x1="36.30" y1="446.70" x2="39.40" y2="446.70" stroke="#000" stroke-width="1.0"/>
<text x="33.60" y="448.90" font-size="6.3" text-anchor="end">1.0</text>
<line x1="42.70" y1="528.50" x2="42.70" y2="531.60" stroke="#000" stroke-width="1.0"/>
<text x="42.70" y="540.10" font-size="6.3" text-anchor="middle">0</text>
<line x1="58.94" y1="528.50" x2="58.94" y2="531.60" stroke="#000" stroke-width="1.0"/>
<text x="58.94" y="540.10" font-size="6.3" text-anchor="middle">0.2</text>
<line x1="75.18" y1="528.50" x2="75.18" y2="531.60" stroke="#000" stroke-width="1.0"/>
<text x="75.18" y="540.10" font-size="6.3" text-anchor="middle">0.4</text>
<line x1="91.42" y1="528.50" x2="91.42" y2="531.60" stroke="#000" stroke-width="1.0"/>
<text x="91.42" y="540.10" font-size="6.3" text-anchor="middle">0.6</text>
<line x1="107.66" y1="528.50" x2="107.66" y2="531.60" stroke="#000" stroke-width="1.0"/>
<text x="107.66" y="540.10" font-size="6.3" text-anchor="middle">0.8</text>
<line x1="123.90" y1="528.50" x2="123.90" y2="531.60" stroke="#000" stroke-width="1.0"/>
<text x="123.90" y="540.10" font-size="6.3" text-anchor="middle">1.0</text>
<text x="83.25" y="551.90" font-size="9" text-anchor="middle" font-weight="bold" textLength="52.30" lengthAdjust="spacingAndGlyphs">False positive rate</text>
<text transform="translate(19.90,486.30) rotate(-90)" font-size="9" font-weight="bold" text-anchor="middle" textLength="50" lengthAdjust="spacingAndGlyphs">True positive rate</text>
<text x="53.40" y="562.35" font-size="5.8" textLength="57.40" lengthAdjust="spacingAndGlyphs">AUC at 5 years (95% CI)</text>
<text x="113.10" y="562.35" font-size="5.8" font-style="italic" textLength="3.70" lengthAdjust="spacingAndGlyphs">P</text>
<text x="118.00" y="562.35" font-size="5.8" textLength="12.40" lengthAdjust="spacingAndGlyphs">value</text>
<line x1="6.85" y1="567.95" x2="13.00" y2="567.95" stroke="#be1a3f" stroke-width="1.5"/>
<text x="16.00" y="569.20" font-size="5.8" textLength="33.10" lengthAdjust="spacingAndGlyphs">Nomogram A</text>
<text x="53.40" y="569.20" font-size="5.8" textLength="44.30" lengthAdjust="spacingAndGlyphs">0.818(0.775-0.861)</text>
<line x1="6.85" y1="575.20" x2="13.00" y2="575.20" stroke="#f2bc22" stroke-width="1.5"/>
<text x="16.00" y="576.45" font-size="5.8" textLength="31.10" lengthAdjust="spacingAndGlyphs">SNP classifier</text>
<text x="53.40" y="576.45" font-size="5.8" textLength="44.30" lengthAdjust="spacingAndGlyphs">0.739(0.693-0.784)</text>
<text x="113.40" y="576.45" font-size="5.8" textLength="12.80" lengthAdjust="spacingAndGlyphs">0.007</text>
<line x1="6.85" y1="582.45" x2="13.00" y2="582.45" stroke="#62b246" stroke-width="1.5"/>
<text x="16.00" y="583.70" font-size="5.8" textLength="5.80" lengthAdjust="spacingAndGlyphs">IPI</text>
<text x="53.40" y="583.70" font-size="5.8" textLength="44.30" lengthAdjust="spacingAndGlyphs">0.690(0.639-0.741)</text>
<text x="113.40" y="583.70" font-size="5.8" textLength="16.20" lengthAdjust="spacingAndGlyphs">&lt;0.001</text>
<line x1="6.85" y1="589.70" x2="13.00" y2="589.70" stroke="#9d97dd" stroke-width="1.5"/>
<text x="16.00" y="590.95" font-size="5.8" textLength="7.50" lengthAdjust="spacingAndGlyphs">KPI</text>
<text x="53.40" y="590.95" font-size="5.8" textLength="44.30" lengthAdjust="spacingAndGlyphs">0.670(0.617-0.723)</text>
<text x="113.40" y="590.95" font-size="5.8" textLength="16.20" lengthAdjust="spacingAndGlyphs">&lt;0.001</text>
<line x1="6.85" y1="596.95" x2="13.00" y2="596.95" stroke="#52217f" stroke-width="1.5"/>
<text x="16.00" y="598.20" font-size="5.8" textLength="12.10" lengthAdjust="spacingAndGlyphs">PINK</text>
<text x="53.40" y="598.20" font-size="5.8" textLength="44.30" lengthAdjust="spacingAndGlyphs">0.664(0.614-0.715)</text>
<text x="113.40" y="598.20" font-size="5.8" textLength="16.20" lengthAdjust="spacingAndGlyphs">&lt;0.001</text>
<text x="209.40" y="428.10" font-size="8.5" text-anchor="middle" textLength="95.40" lengthAdjust="spacingAndGlyphs">Internal validation cohort</text>
<text x="209.40" y="438.40" font-size="8.5" text-anchor="middle" textLength="56.30" lengthAdjust="spacingAndGlyphs">Overall survival</text>
<g fill="none" stroke-linejoin="round" stroke-linecap="round">
<line x1="166.70" y1="527.85" x2="251.50" y2="445.10" stroke="#225f45" stroke-width="1.6" stroke-dasharray="0 2.65" stroke-linecap="round"/>
<polyline points="168.60,525.59 170.33,507.77 173.79,495.65 178.98,490.46 185.04,483.54 191.10,476.61 197.15,469.69 204.08,465.36 214.46,460.69 231.77,454.11 251.67,445.12" stroke="#9d97dd" stroke-width="1.1"/>
<polyline points="168.60,525.59 169.46,506.04 172.92,499.11 178.11,492.19 183.31,483.54 188.50,475.75 192.83,467.96 198.88,465.36 207.54,461.90 217.92,458.44 235.23,452.38 251.67,445.12" stroke="#52217f" stroke-width="1.4"/>
<polyline points="168.60,525.59 169.46,511.23 172.06,499.11 175.52,492.19 178.11,485.27 181.58,482.67 188.50,476.61 197.15,469.69 205.81,462.77 211.00,459.31 217.92,455.85 235.23,450.65 251.67,445.12" stroke="#62b246" stroke-width="1.4"/>
<polyline points="168.60,525.59 171.19,514.69 174.65,502.57 178.98,488.73 183.31,474.88 185.90,473.15 193.69,470.56 200.61,466.23 209.27,462.77 226.57,456.71 251.67,445.12" stroke="#f2bc22" stroke-width="1.4"/>
<polyline points="168.60,525.59 168.60,512.96 169.46,493.92 170.85,489.59 172.92,486.13 175.52,483.19 177.25,478.34 179.85,474.02 182.44,469.69 183.31,467.96 184.17,462.77 185.90,459.31 190.23,457.58 195.42,456.19 200.61,455.50 207.54,455.50 214.46,454.98 217.92,453.77 226.57,451.00 238.69,448.58 251.67,445.12" stroke="#be1a3f" stroke-width="1.4"/>
</g>
<rect x="165.70" y="443.50" width="88" height="85" fill="none" stroke="#000" stroke-width="1.4"/>
<line x1="162.60" y1="525.70" x2="165.70" y2="525.70" stroke="#000" stroke-width="1.0"/>
<text x="159.90" y="527.90" font-size="6.3" text-anchor="end">0</text>
<line x1="162.60" y1="509.90" x2="165.70" y2="509.90" stroke="#000" stroke-width="1.0"/>
<text x="159.90" y="512.10" font-size="6.3" text-anchor="end">0.2</text>
<line x1="162.60" y1="494.10" x2="165.70" y2="494.10" stroke="#000" stroke-width="1.0"/>
<text x="159.90" y="496.30" font-size="6.3" text-anchor="end">0.4</text>
<line x1="162.60" y1="478.30" x2="165.70" y2="478.30" stroke="#000" stroke-width="1.0"/>
<text x="159.90" y="480.50" font-size="6.3" text-anchor="end">0.6</text>
<line x1="162.60" y1="462.50" x2="165.70" y2="462.50" stroke="#000" stroke-width="1.0"/>
<text x="159.90" y="464.70" font-size="6.3" text-anchor="end">0.8</text>
<line x1="162.60" y1="446.70" x2="165.70" y2="446.70" stroke="#000" stroke-width="1.0"/>
<text x="159.90" y="448.90" font-size="6.3" text-anchor="end">1.0</text>
<line x1="169.00" y1="528.50" x2="169.00" y2="531.60" stroke="#000" stroke-width="1.0"/>
<text x="169.00" y="540.10" font-size="6.3" text-anchor="middle">0</text>
<line x1="185.24" y1="528.50" x2="185.24" y2="531.60" stroke="#000" stroke-width="1.0"/>
<text x="185.24" y="540.10" font-size="6.3" text-anchor="middle">0.2</text>
<line x1="201.48" y1="528.50" x2="201.48" y2="531.60" stroke="#000" stroke-width="1.0"/>
<text x="201.48" y="540.10" font-size="6.3" text-anchor="middle">0.4</text>
<line x1="217.72" y1="528.50" x2="217.72" y2="531.60" stroke="#000" stroke-width="1.0"/>
<text x="217.72" y="540.10" font-size="6.3" text-anchor="middle">0.6</text>
<line x1="233.96" y1="528.50" x2="233.96" y2="531.60" stroke="#000" stroke-width="1.0"/>
<text x="233.96" y="540.10" font-size="6.3" text-anchor="middle">0.8</text>
<line x1="250.20" y1="528.50" x2="250.20" y2="531.60" stroke="#000" stroke-width="1.0"/>
<text x="250.20" y="540.10" font-size="6.3" text-anchor="middle">1.0</text>
<text x="209.55" y="551.90" font-size="9" text-anchor="middle" font-weight="bold" textLength="52.30" lengthAdjust="spacingAndGlyphs">False positive rate</text>
<text transform="translate(146.20,486.30) rotate(-90)" font-size="9" font-weight="bold" text-anchor="middle" textLength="50" lengthAdjust="spacingAndGlyphs">True positive rate</text>
<text x="179.70" y="562.35" font-size="5.8" textLength="57.40" lengthAdjust="spacingAndGlyphs">AUC at 5 years (95% CI)</text>
<text x="239.40" y="562.35" font-size="5.8" font-style="italic" textLength="3.70" lengthAdjust="spacingAndGlyphs">P</text>
<text x="244.30" y="562.35" font-size="5.8" textLength="12.40" lengthAdjust="spacingAndGlyphs">value</text>
<line x1="133.15" y1="567.95" x2="139.30" y2="567.95" stroke="#be1a3f" stroke-width="1.5"/>
<text x="142.30" y="569.20" font-size="5.8" textLength="33.10" lengthAdjust="spacingAndGlyphs">Nomogram A</text>
<text x="179.70" y="569.20" font-size="5.8" textLength="44.30" lengthAdjust="spacingAndGlyphs">0.825(0.761-0.890)</text>
<line x1="133.15" y1="575.20" x2="139.30" y2="575.20" stroke="#f2bc22" stroke-width="1.5"/>
<text x="142.30" y="576.45" font-size="5.8" textLength="31.10" lengthAdjust="spacingAndGlyphs">SNP classifier</text>
<text x="179.70" y="576.45" font-size="5.8" textLength="44.30" lengthAdjust="spacingAndGlyphs">0.695(0.609-0.772)</text>
<text x="239.70" y="576.45" font-size="5.8" textLength="12.80" lengthAdjust="spacingAndGlyphs">0.026</text>
<line x1="133.15" y1="582.45" x2="139.30" y2="582.45" stroke="#62b246" stroke-width="1.5"/>
<text x="142.30" y="583.70" font-size="5.8" textLength="5.80" lengthAdjust="spacingAndGlyphs">IPI</text>
<text x="179.70" y="583.70" font-size="5.8" textLength="44.30" lengthAdjust="spacingAndGlyphs">0.746(0.678-0.815)</text>
<text x="239.70" y="583.70" font-size="5.8" textLength="12.80" lengthAdjust="spacingAndGlyphs">0.050</text>
<line x1="133.15" y1="589.70" x2="139.30" y2="589.70" stroke="#9d97dd" stroke-width="1.5"/>
<text x="142.30" y="590.95" font-size="5.8" textLength="7.50" lengthAdjust="spacingAndGlyphs">KPI</text>
<text x="179.70" y="590.95" font-size="5.8" textLength="44.30" lengthAdjust="spacingAndGlyphs">0.712(0.637-0.787)</text>
<text x="239.70" y="590.95" font-size="5.8" textLength="12.80" lengthAdjust="spacingAndGlyphs">0.012</text>
<line x1="133.15" y1="596.95" x2="139.30" y2="596.95" stroke="#52217f" stroke-width="1.5"/>
<text x="142.30" y="598.20" font-size="5.8" textLength="12.10" lengthAdjust="spacingAndGlyphs">PINK</text>
<text x="179.70" y="598.20" font-size="5.8" textLength="44.30" lengthAdjust="spacingAndGlyphs">0.739(0.672-0.806)</text>
<text x="239.70" y="598.20" font-size="5.8" textLength="12.80" lengthAdjust="spacingAndGlyphs">0.034</text>
<text x="336.30" y="428.10" font-size="8.5" text-anchor="middle" textLength="103.90" lengthAdjust="spacingAndGlyphs">External validation cohort 1</text>
<text x="336.30" y="438.40" font-size="8.5" text-anchor="middle" textLength="56.30" lengthAdjust="spacingAndGlyphs">Overall survival</text>
<g fill="none" stroke-linejoin="round" stroke-linecap="round">
<line x1="293.60" y1="527.85" x2="378.40" y2="445.10" stroke="#225f45" stroke-width="1.6" stroke-dasharray="0 2.65" stroke-linecap="round"/>
<polyline points="295.60,525.59 298.19,519.88 301.65,511.23 306.85,499.11 312.04,488.73 315.50,478.34 318.96,469.69 327.61,464.50 338.00,460.69 353.57,455.85 365.69,448.92 378.67,445.12" stroke="#9d97dd" stroke-width="1.1"/>
<polyline points="295.60,525.59 295.60,509.50 298.19,506.04 303.38,497.38 308.58,488.73 313.77,481.81 318.96,474.02 325.88,466.23 336.27,461.90 348.38,457.58 362.23,452.38 378.67,445.12" stroke="#52217f" stroke-width="1.4"/>
<polyline points="295.60,525.59 296.46,509.50 299.06,492.19 302.52,487.86 306.85,480.94 310.31,476.61 315.50,469.69 318.96,467.96 325.88,466.23 336.27,461.04 353.57,454.11 378.67,445.12" stroke="#62b246" stroke-width="1.4"/>
<polyline points="295.60,525.59 299.92,511.23 305.11,497.38 310.31,481.81 315.15,467.10 318.96,465.36 327.61,462.77 336.27,460.17 344.92,457.58 362.23,451.52 378.67,445.12" stroke="#f2bc22" stroke-width="1.4"/>
<polyline points="295.60,525.59 295.60,511.23 296.81,506.04 299.06,500.84 300.79,497.38 301.65,492.19 302.52,487.00 303.73,483.54 305.11,483.54 305.98,480.08 306.85,467.96 310.31,464.50 313.77,461.90 317.23,460.17 320.69,458.44 324.15,457.23 329.34,456.71 334.54,455.85 337.13,453.25 338.34,450.65 343.19,448.92 348.38,447.54 362.23,446.33 378.67,445.12" stroke="#be1a3f" stroke-width="1.4"/>
</g>
<rect x="292.60" y="443.50" width="88" height="85" fill="none" stroke="#000" stroke-width="1.4"/>
<line x1="289.50" y1="525.70" x2="292.60" y2="525.70" stroke="#000" stroke-width="1.0"/>
<text x="286.80" y="527.90" font-size="6.3" text-anchor="end">0</text>
<line x1="289.50" y1="509.90" x2="292.60" y2="509.90" stroke="#000" stroke-width="1.0"/>
<text x="286.80" y="512.10" font-size="6.3" text-anchor="end">0.2</text>
<line x1="289.50" y1="494.10" x2="292.60" y2="494.10" stroke="#000" stroke-width="1.0"/>
<text x="286.80" y="496.30" font-size="6.3" text-anchor="end">0.4</text>
<line x1="289.50" y1="478.30" x2="292.60" y2="478.30" stroke="#000" stroke-width="1.0"/>
<text x="286.80" y="480.50" font-size="6.3" text-anchor="end">0.6</text>
<line x1="289.50" y1="462.50" x2="292.60" y2="462.50" stroke="#000" stroke-width="1.0"/>
<text x="286.80" y="464.70" font-size="6.3" text-anchor="end">0.8</text>
<line x1="289.50" y1="446.70" x2="292.60" y2="446.70" stroke="#000" stroke-width="1.0"/>
<text x="286.80" y="448.90" font-size="6.3" text-anchor="end">1.0</text>
<line x1="295.90" y1="528.50" x2="295.90" y2="531.60" stroke="#000" stroke-width="1.0"/>
<text x="295.90" y="540.10" font-size="6.3" text-anchor="middle">0</text>
<line x1="312.14" y1="528.50" x2="312.14" y2="531.60" stroke="#000" stroke-width="1.0"/>
<text x="312.14" y="540.10" font-size="6.3" text-anchor="middle">0.2</text>
<line x1="328.38" y1="528.50" x2="328.38" y2="531.60" stroke="#000" stroke-width="1.0"/>
<text x="328.38" y="540.10" font-size="6.3" text-anchor="middle">0.4</text>
<line x1="344.62" y1="528.50" x2="344.62" y2="531.60" stroke="#000" stroke-width="1.0"/>
<text x="344.62" y="540.10" font-size="6.3" text-anchor="middle">0.6</text>
<line x1="360.86" y1="528.50" x2="360.86" y2="531.60" stroke="#000" stroke-width="1.0"/>
<text x="360.86" y="540.10" font-size="6.3" text-anchor="middle">0.8</text>
<line x1="377.10" y1="528.50" x2="377.10" y2="531.60" stroke="#000" stroke-width="1.0"/>
<text x="377.10" y="540.10" font-size="6.3" text-anchor="middle">1.0</text>
<text x="336.45" y="551.90" font-size="9" text-anchor="middle" font-weight="bold" textLength="52.30" lengthAdjust="spacingAndGlyphs">False positive rate</text>
<text transform="translate(273.10,486.30) rotate(-90)" font-size="9" font-weight="bold" text-anchor="middle" textLength="50" lengthAdjust="spacingAndGlyphs">True positive rate</text>
<text x="306.60" y="563.65" font-size="5.8" textLength="57.40" lengthAdjust="spacingAndGlyphs">AUC at 5 years (95% CI)</text>
<text x="366.30" y="563.65" font-size="5.8" font-style="italic" textLength="3.70" lengthAdjust="spacingAndGlyphs">P</text>
<text x="371.20" y="563.65" font-size="5.8" textLength="12.40" lengthAdjust="spacingAndGlyphs">value</text>
<line x1="260.05" y1="569.25" x2="266.20" y2="569.25" stroke="#be1a3f" stroke-width="1.5"/>
<text x="269.20" y="570.50" font-size="5.8" textLength="33.10" lengthAdjust="spacingAndGlyphs">Nomogram A</text>
<text x="306.60" y="570.50" font-size="5.8" textLength="44.30" lengthAdjust="spacingAndGlyphs">0.828(0.776-0.899)</text>
<line x1="260.05" y1="576.50" x2="266.20" y2="576.50" stroke="#f2bc22" stroke-width="1.5"/>
<text x="269.20" y="577.75" font-size="5.8" textLength="31.10" lengthAdjust="spacingAndGlyphs">SNP classifier</text>
<text x="306.60" y="577.75" font-size="5.8" textLength="44.30" lengthAdjust="spacingAndGlyphs">0.747(0.671-0.823)</text>
<text x="366.60" y="577.75" font-size="5.8" textLength="12.80" lengthAdjust="spacingAndGlyphs">0.066</text>
<line x1="260.05" y1="583.75" x2="266.20" y2="583.75" stroke="#62b246" stroke-width="1.5"/>
<text x="269.20" y="585.00" font-size="5.8" textLength="5.80" lengthAdjust="spacingAndGlyphs">IPI</text>
<text x="306.60" y="585.00" font-size="5.8" textLength="44.30" lengthAdjust="spacingAndGlyphs">0.725(0.621-0.788)</text>
<text x="366.60" y="585.00" font-size="5.8" textLength="12.80" lengthAdjust="spacingAndGlyphs">0.038</text>
<line x1="260.05" y1="591.00" x2="266.20" y2="591.00" stroke="#9d97dd" stroke-width="1.5"/>
<text x="269.20" y="592.25" font-size="5.8" textLength="7.50" lengthAdjust="spacingAndGlyphs">KPI</text>
<text x="306.60" y="592.25" font-size="5.8" textLength="44.30" lengthAdjust="spacingAndGlyphs">0.705(0.618-0.792)</text>
<text x="366.60" y="592.25" font-size="5.8" textLength="12.80" lengthAdjust="spacingAndGlyphs">0.009</text>
<line x1="260.05" y1="598.25" x2="266.20" y2="598.25" stroke="#52217f" stroke-width="1.5"/>
<text x="269.20" y="599.50" font-size="5.8" textLength="12.10" lengthAdjust="spacingAndGlyphs">PINK</text>
<text x="306.60" y="599.50" font-size="5.8" textLength="44.30" lengthAdjust="spacingAndGlyphs">0.720(0.637-0.803)</text>
<text x="366.60" y="599.50" font-size="5.8" textLength="12.80" lengthAdjust="spacingAndGlyphs">0.015</text>
<text x="461.00" y="428.10" font-size="8.5" text-anchor="middle" textLength="104.10" lengthAdjust="spacingAndGlyphs">External validation cohort 2</text>
<text x="461.00" y="438.40" font-size="8.5" text-anchor="middle" textLength="56.30" lengthAdjust="spacingAndGlyphs">Overall survival</text>
<g fill="none" stroke-linejoin="round" stroke-linecap="round">
<line x1="420.50" y1="527.85" x2="505.30" y2="445.10" stroke="#225f45" stroke-width="1.6" stroke-dasharray="0 2.65" stroke-linecap="round"/>
<polyline points="422.60,525.59 425.19,514.69 428.65,502.57 429.52,485.27 433.85,481.81 440.77,477.48 447.69,473.15 454.61,468.83 463.27,463.63 471.92,458.44 480.57,454.11 492.69,448.92 505.67,445.12" stroke="#9d97dd" stroke-width="1.1"/>
<polyline points="422.60,525.59 424.33,511.23 426.92,497.38 432.11,488.73 437.31,481.81 444.23,469.69 449.42,462.77 454.61,461.04 461.54,459.31 471.92,454.98 489.23,449.79 505.67,445.12" stroke="#52217f" stroke-width="1.4"/>
<polyline points="422.60,525.59 423.46,511.23 425.19,497.38 427.79,493.92 433.85,487.00 440.77,478.34 449.42,467.96 458.08,461.04 465.00,455.85 470.19,452.38 480.57,450.65 492.69,448.06 505.67,445.12" stroke="#62b246" stroke-width="1.4"/>
<polyline points="422.60,525.59 425.19,514.69 428.65,502.57 432.98,488.73 437.31,476.61 439.90,470.56 445.96,467.96 454.61,464.50 463.27,461.04 471.92,457.58 489.23,451.52 505.67,445.12" stroke="#f2bc22" stroke-width="1.4"/>
<polyline points="422.60,525.59 424.33,519.88 425.19,511.23 426.06,497.38 426.58,485.27 428.65,480.08 430.38,476.61 432.11,466.23 433.85,464.50 439.04,461.04 445.96,457.58 452.88,454.11 458.94,451.52 459.81,448.06 465.00,446.33 475.38,445.46 489.23,445.12 505.67,445.12" stroke="#be1a3f" stroke-width="1.4"/>
</g>
<rect x="419.50" y="443.50" width="88" height="85" fill="none" stroke="#000" stroke-width="1.4"/>
<line x1="416.40" y1="525.70" x2="419.50" y2="525.70" stroke="#000" stroke-width="1.0"/>
<text x="413.70" y="527.90" font-size="6.3" text-anchor="end">0</text>
<line x1="416.40" y1="509.90" x2="419.50" y2="509.90" stroke="#000" stroke-width="1.0"/>
<text x="413.70" y="512.10" font-size="6.3" text-anchor="end">0.2</text>
<line x1="416.40" y1="494.10" x2="419.50" y2="494.10" stroke="#000" stroke-width="1.0"/>
<text x="413.70" y="496.30" font-size="6.3" text-anchor="end">0.4</text>
<line x1="416.40" y1="478.30" x2="419.50" y2="478.30" stroke="#000" stroke-width="1.0"/>
<text x="413.70" y="480.50" font-size="6.3" text-anchor="end">0.6</text>
<line x1="416.40" y1="462.50" x2="419.50" y2="462.50" stroke="#000" stroke-width="1.0"/>
<text x="413.70" y="464.70" font-size="6.3" text-anchor="end">0.8</text>
<line x1="416.40" y1="446.70" x2="419.50" y2="446.70" stroke="#000" stroke-width="1.0"/>
<text x="413.70" y="448.90" font-size="6.3" text-anchor="end">1.0</text>
<line x1="422.80" y1="528.50" x2="422.80" y2="531.60" stroke="#000" stroke-width="1.0"/>
<text x="422.80" y="540.10" font-size="6.3" text-anchor="middle">0</text>
<line x1="439.04" y1="528.50" x2="439.04" y2="531.60" stroke="#000" stroke-width="1.0"/>
<text x="439.04" y="540.10" font-size="6.3" text-anchor="middle">0.2</text>
<line x1="455.28" y1="528.50" x2="455.28" y2="531.60" stroke="#000" stroke-width="1.0"/>
<text x="455.28" y="540.10" font-size="6.3" text-anchor="middle">0.4</text>
<line x1="471.52" y1="528.50" x2="471.52" y2="531.60" stroke="#000" stroke-width="1.0"/>
<text x="471.52" y="540.10" font-size="6.3" text-anchor="middle">0.6</text>
<line x1="487.76" y1="528.50" x2="487.76" y2="531.60" stroke="#000" stroke-width="1.0"/>
<text x="487.76" y="540.10" font-size="6.3" text-anchor="middle">0.8</text>
<line x1="504.00" y1="528.50" x2="504.00" y2="531.60" stroke="#000" stroke-width="1.0"/>
<text x="504.00" y="540.10" font-size="6.3" text-anchor="middle">1.0</text>
<text x="463.35" y="551.90" font-size="9" text-anchor="middle" font-weight="bold" textLength="52.30" lengthAdjust="spacingAndGlyphs">False positive rate</text>
<text transform="translate(400.00,486.30) rotate(-90)" font-size="9" font-weight="bold" text-anchor="middle" textLength="50" lengthAdjust="spacingAndGlyphs">True positive rate</text>
<text x="433.50" y="563.65" font-size="5.8" textLength="57.40" lengthAdjust="spacingAndGlyphs">AUC at 5 years (95% CI)</text>
<text x="493.20" y="563.65" font-size="5.8" font-style="italic" textLength="3.70" lengthAdjust="spacingAndGlyphs">P</text>
<text x="498.10" y="563.65" font-size="5.8" textLength="12.40" lengthAdjust="spacingAndGlyphs">value</text>
<line x1="386.95" y1="569.25" x2="393.10" y2="569.25" stroke="#be1a3f" stroke-width="1.5"/>
<text x="396.10" y="570.50" font-size="5.8" textLength="33.10" lengthAdjust="spacingAndGlyphs">Nomogram A</text>
<text x="433.50" y="570.50" font-size="5.8" textLength="44.30" lengthAdjust="spacingAndGlyphs">0.872(0.776-0.967)</text>
<line x1="386.95" y1="576.50" x2="393.10" y2="576.50" stroke="#f2bc22" stroke-width="1.5"/>
<text x="396.10" y="577.75" font-size="5.8" textLength="31.10" lengthAdjust="spacingAndGlyphs">SNP classifier</text>
<text x="433.50" y="577.75" font-size="5.8" textLength="44.30" lengthAdjust="spacingAndGlyphs">0.748(0.642-0.854)</text>
<text x="493.50" y="577.75" font-size="5.8" textLength="12.80" lengthAdjust="spacingAndGlyphs">0.044</text>
<line x1="386.95" y1="583.75" x2="393.10" y2="583.75" stroke="#62b246" stroke-width="1.5"/>
<text x="396.10" y="585.00" font-size="5.8" textLength="5.80" lengthAdjust="spacingAndGlyphs">IPI</text>
<text x="433.50" y="585.00" font-size="5.8" textLength="44.30" lengthAdjust="spacingAndGlyphs">0.749(0.637-0.860)</text>
<text x="493.50" y="585.00" font-size="5.8" textLength="12.80" lengthAdjust="spacingAndGlyphs">0.048</text>
<line x1="386.95" y1="591.00" x2="393.10" y2="591.00" stroke="#9d97dd" stroke-width="1.5"/>
<text x="396.10" y="592.25" font-size="5.8" textLength="7.50" lengthAdjust="spacingAndGlyphs">KPI</text>
<text x="433.50" y="592.25" font-size="5.8" textLength="44.30" lengthAdjust="spacingAndGlyphs">0.737(0.618-0.856)</text>
<text x="493.50" y="592.25" font-size="5.8" textLength="12.80" lengthAdjust="spacingAndGlyphs">0.042</text>
<line x1="386.95" y1="598.25" x2="393.10" y2="598.25" stroke="#52217f" stroke-width="1.5"/>
<text x="396.10" y="599.50" font-size="5.8" textLength="12.10" lengthAdjust="spacingAndGlyphs">PINK</text>
<text x="433.50" y="599.50" font-size="5.8" textLength="44.30" lengthAdjust="spacingAndGlyphs">0.746(0.633-0.858)</text>
<text x="493.50" y="599.50" font-size="5.8" textLength="12.80" lengthAdjust="spacingAndGlyphs">0.045</text>
<rect x="0.8" y="0.8" width="518.4" height="605.4" fill="none" stroke="#000" stroke-width="1.6"/>
</svg>
</body></html>
